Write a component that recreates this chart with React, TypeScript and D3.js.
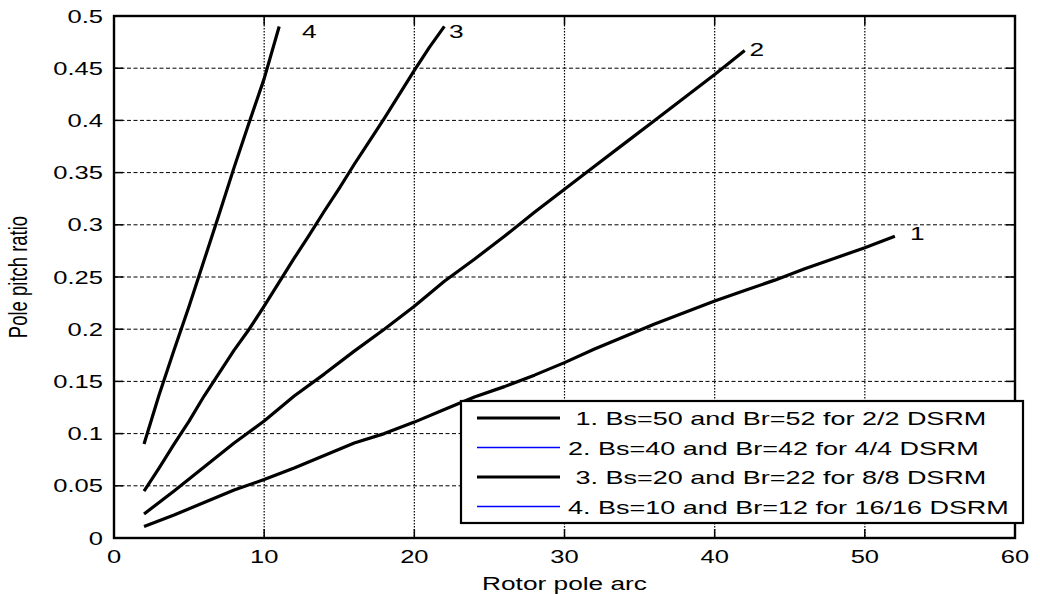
import React from 'react';
import * as d3 from 'd3';

// ---- data ----
const xTickValues = [0, 10, 20, 30, 40, 50, 60];
const xTickLabels = ['0', '10', '20', '30', '40', '50', '60'];
const yTickValues = [0, 0.05, 0.1, 0.15, 0.2, 0.25, 0.3, 0.35, 0.4, 0.45, 0.5];
const yTickLabels = ['0', '0.05', '0.1', '0.15', '0.2', '0.25', '0.3', '0.35', '0.4', '0.45', '0.5'];

const curve1X = [2, 4, 6, 8, 10, 12, 14, 16, 18, 20, 22, 24, 26, 28, 30, 32, 34, 36, 38, 40, 42, 44, 46, 48, 50, 52];
const curve1Y = [0.011, 0.022, 0.034, 0.046, 0.056, 0.067, 0.079, 0.091, 0.1, 0.111, 0.123, 0.135, 0.145, 0.156, 0.168, 0.181, 0.193, 0.205, 0.216, 0.227, 0.237, 0.247, 0.258, 0.268, 0.278, 0.289];

const curve2X = [2, 4, 6, 8, 10, 12, 14, 16, 18, 20, 22, 24, 26, 28, 30, 32, 34, 36, 38, 40, 42];
const curve2Y = [0.023, 0.045, 0.068, 0.091, 0.112, 0.136, 0.157, 0.179, 0.2, 0.222, 0.246, 0.267, 0.289, 0.312, 0.334, 0.356, 0.378, 0.4, 0.422, 0.444, 0.467];

const curve3X = [2, 3, 4, 5, 6, 7, 8, 9, 10, 11, 12, 13, 14, 15, 16, 17, 18, 19, 20, 21, 22];
const curve3Y = [0.045, 0.067, 0.09, 0.112, 0.136, 0.158, 0.18, 0.2, 0.222, 0.245, 0.268, 0.29, 0.313, 0.335, 0.358, 0.38, 0.402, 0.425, 0.448, 0.47, 0.49];

const curve4X = [2, 3, 4, 5, 6, 7, 8, 9, 10, 11];
const curve4Y = [0.09, 0.137, 0.18, 0.222, 0.266, 0.31, 0.355, 0.398, 0.44, 0.49];

const curveLabels = ['1', '2', '3', '4'];
const curveLabelX = [53.5, 42.8, 22.8, 13.0];
const curveLabelY = [0.292, 0.468, 0.485, 0.485];

const legendLabels = [
  ' 1. Bs=50 and Br=52 for 2/2 DSRM',
  '2. Bs=40 and Br=42 for 4/4 DSRM',
  ' 3. Bs=20 and Br=22 for 8/8 DSRM',
  '4. Bs=10 and Br=12 for 16/16 DSRM',
];
const legendColors = ['#000000', '#0000ff', '#000000', '#0000ff'];
const legendWidths = [3, 1.5, 3, 1.5];

const xLabel = 'Rotor pole arc';
const yLabel = 'Pole pitch ratio';

// ---- layout ----
const W = 1040;
const H = 594;
const left = 114;
const right = 1015;
const top = 16;
const bottom = 538;
const SX = 1.42; // horizontal stretch of text in the reference
const FONT = '"Liberation Sans", Arial, sans-serif';

const x = d3.scaleLinear().domain([0, 60]).range([left, right]);
const y = d3.scaleLinear().domain([0, 0.5]).range([bottom, top]);

const line = d3
  .line<[number, number]>()
  .x((d) => x(d[0]))
  .y((d) => y(d[1]));

const zip = (xs: number[], ys: number[]): [number, number][] => xs.map((v, i) => [v, ys[i]]);

const curves = [zip(curve1X, curve1Y), zip(curve2X, curve2Y), zip(curve3X, curve3Y), zip(curve4X, curve4Y)];

function SText(props: {
  x: number;
  y: number;
  size: number;
  anchor?: string;
  rotate?: number;
  preserve?: boolean;
  children: React.ReactNode;
}) {
  const { x: tx, y: ty, size, anchor = 'start', rotate = 0, preserve, children } = props;
  return (
    <text
      transform={`translate(${tx},${ty}) scale(${SX},1)${rotate ? ` rotate(${rotate})` : ''}`}
      textAnchor={anchor}
      fontFamily={FONT}
      fontSize={size}
      fill="#000"
      xmlSpace={preserve ? 'preserve' : undefined}
      style={preserve ? { whiteSpace: 'pre' } : undefined}
    >
      {children}
    </text>
  );
}

export default function App() {
  const tickLen = 9;
  const legL = 461;
  const legT = 401;
  const legR = 1023;
  const legB = 523;
  return (
    <svg
      width={W}
      height={H}
      viewBox={`0 0 ${W} ${H}`}
      style={{ position: 'absolute', left: 0, top: 0, background: '#fff' }}
    >
      <rect x={0} y={0} width={W} height={H} fill="#fff" />
      {/* grid */}
      {yTickValues.slice(1, -1).map((v) => (
        <line
          key={'gy' + v}
          x1={left}
          x2={right}
          y1={y(v)}
          y2={y(v)}
          stroke="#000"
          strokeWidth={1}
          strokeDasharray="4,2.5"
        />
      ))}
      {xTickValues.slice(1, -1).map((v) => (
        <line
          key={'gx' + v}
          x1={x(v)}
          x2={x(v)}
          y1={top}
          y2={bottom}
          stroke="#000"
          strokeWidth={1.2}
          strokeDasharray="1.5,1.5"
        />
      ))}
      {/* ticks */}
      {yTickValues.map((v) => (
        <g key={'ty' + v}>
          <line x1={left} x2={left + tickLen} y1={y(v)} y2={y(v)} stroke="#000" strokeWidth={1.5} />
          <line x1={right} x2={right - tickLen} y1={y(v)} y2={y(v)} stroke="#000" strokeWidth={1.5} />
        </g>
      ))}
      {xTickValues.map((v) => (
        <g key={'tx' + v}>
          <line x1={x(v)} x2={x(v)} y1={bottom} y2={bottom - tickLen} stroke="#000" strokeWidth={1.5} />
          <line x1={x(v)} x2={x(v)} y1={top} y2={top + tickLen} stroke="#000" strokeWidth={1.5} />
        </g>
      ))}
      {/* curves */}
      {curves.map((c, i) => (
        <path
          key={'c' + i}
          d={line(c) || ''}
          fill="none"
          stroke="#000"
          strokeWidth={3.2}
          strokeLinejoin="round"
        />
      ))}
      {/* axes box */}
      <rect x={left} y={top} width={right - left} height={bottom - top} fill="none" stroke="#000" strokeWidth={2.4} />
      {/* tick labels */}
      {yTickValues.map((v, i) => (
        <SText key={'ly' + v} x={left - 11} y={y(v) + 6.5} size={18} anchor="end">
          {yTickLabels[i]}
        </SText>
      ))}
      {xTickValues.map((v, i) => (
        <SText key={'lx' + v} x={x(v)} y={bottom + 25} size={18} anchor="middle">
          {xTickLabels[i]}
        </SText>
      ))}
      {/* curve labels */}
      {curveLabels.map((t, i) => (
        <SText key={'cl' + i} x={x(curveLabelX[i])} y={y(curveLabelY[i]) + 6.5} size={18.5} anchor="middle">
          {t}
        </SText>
      ))}
      {/* axis labels */}
      <SText x={(left + right) / 2} y={590} size={18.5} anchor="middle">
        {xLabel}
      </SText>
      <SText x={27} y={(top + bottom) / 2} size={18.5} anchor="middle" rotate={-90}>
        {yLabel}
      </SText>
      {/* legend */}
      <rect x={legL} y={legT} width={legR - legL} height={legB - legT} fill="#fff" stroke="#000" strokeWidth={2.2} />
      {legendLabels.map((t, i) => {
        const ly = 418 + i * 29.5;
        return (
          <g key={'lg' + i}>
            <line x1={477} x2={560} y1={ly} y2={ly} stroke={legendColors[i]} strokeWidth={legendWidths[i]} />
            <SText x={568} y={ly + 7} size={19} preserve>
              {t}
            </SText>
          </g>
        );
      })}
    </svg>
  );
}
